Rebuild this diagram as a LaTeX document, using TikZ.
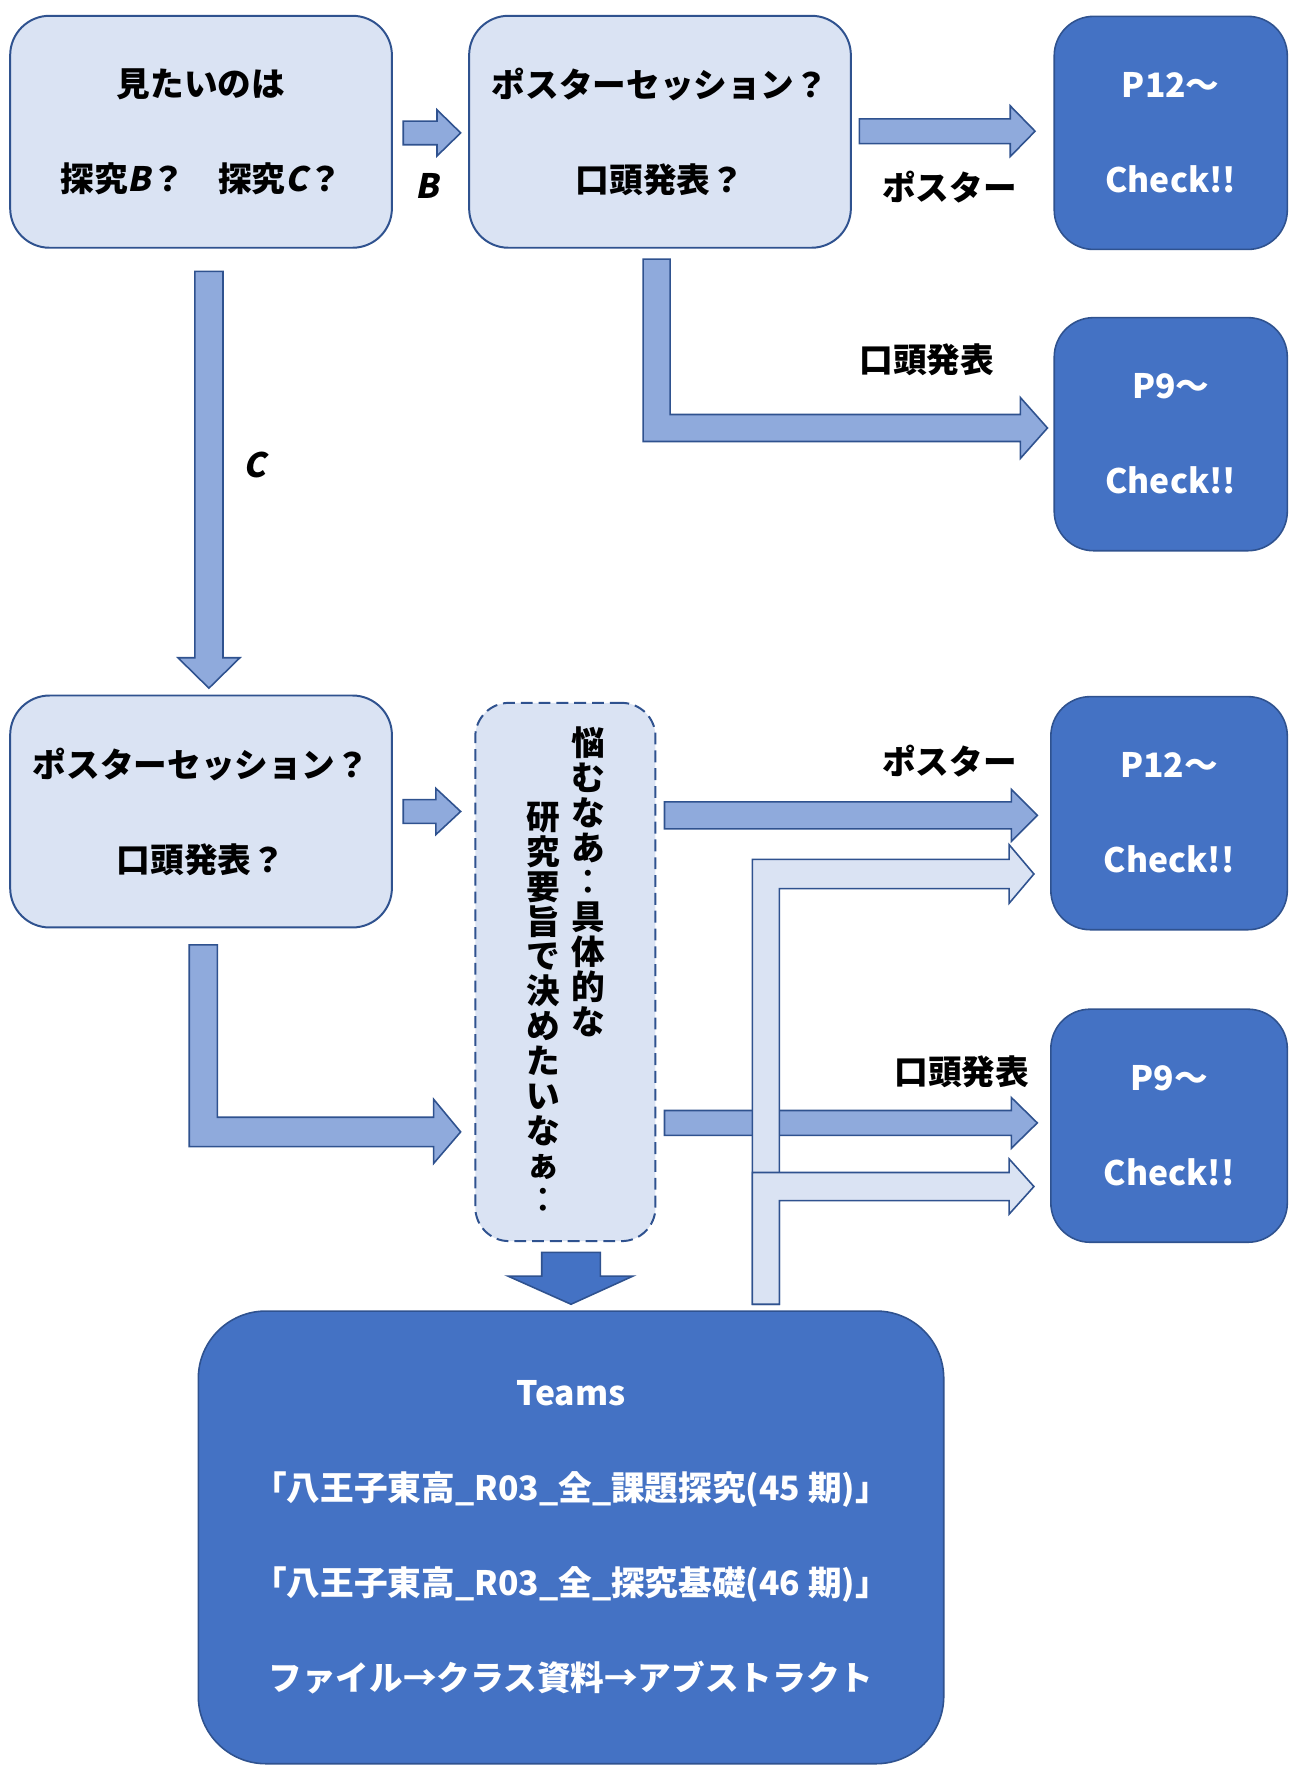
\documentclass[tikz,border=0pt]{standalone}
\usepackage{fontspec}
\usepackage{xcolor}
\usepackage{tikz}
\setmainfont{Noto Sans CJK JP}[BoldFont={* Black}]
\newfontfamily\slantjp{Noto Sans CJK JP}[BoldFont={* Black}, FakeSlant=0.2]
\definecolor{paleblue}{HTML}{DAE3F3}
\definecolor{midblue}{HTML}{8FAADC}
\definecolor{darkblue}{HTML}{4472C4}
\definecolor{edgeblue}{HTML}{2F528F}
\newcommand{\hblock}[7]{\draw[#1] (#2,#5-#6) -- (#3,#5-#6) -- (#3,#5-#7) -- (#4,#5) -- (#3,#5+#7) -- (#3,#5+#6) -- (#2,#5+#6) -- cycle;}

\begin{document}
\begin{tikzpicture}[x=0.02cm,y=-0.02cm,
  every node/.style={font=\bfseries\fontsize{17}{48}\selectfont, align=center, inner sep=0pt},
  ask/.style={draw=edgeblue, fill=paleblue, line width=1pt, rounded corners=0.7cm, minimum width=6.78cm, minimum height=4.12cm},
  goal/.style={draw=edgeblue, fill=darkblue, text=white, line width=0.8pt, rounded corners=0.7cm, minimum height=4.14cm},
  muse/.style={draw=edgeblue, fill=paleblue, line width=1pt, dash pattern=on 6pt off 3pt, rounded corners=0.6cm, minimum width=3.2cm, minimum height=9.56cm},
  vtext/.style={anchor=north, font=\bfseries\fontsize{17}{17.6}\selectfont},
  fat/.style={draw=edgeblue, fill=midblue, line width=0.8pt},
  pale/.style={draw=edgeblue, fill=paleblue, line width=0.8pt},
  deep/.style={draw=edgeblue, fill=darkblue, line width=0.8pt}]
\useasboundingbox (0,0) rectangle (1144,1568);
\node[ask] (want) at (178.5,117) {見たいのは\\探究{\slantjp B}？　探究{\slantjp C}？};
\node[ask] (formB) at (586,117) {ポスターセッション？\\口頭発表？};
\node[goal, minimum width=4.14cm] (posterB) at (1039.5,118) {P12～\\Check!!};
\node[goal, minimum width=4.14cm] (oralB) at (1039.5,385.5) {P9～\\Check!!};
\node[ask] (formC) at (178.5,720.5) {ポスターセッション？\\口頭発表？};
\node[muse] (unsure) at (502,863) {};
\node[vtext] (museR) at (522,645) {悩\\む\\な\\あ\\︰\\具\\体\\的\\な};
\node[vtext] (museL) at (482,712) {研\\究\\要\\旨\\で\\決\\め\\た\\い\\な\\ぁ\\︰};
\node[goal, minimum width=4.2cm] (posterC) at (1038,722) {P12～\\Check!!};
\node[goal, minimum width=4.2cm] (oralC) at (1038,999.5) {P9～\\Check!!};
\node[goal, rounded corners=1.2cm, minimum width=13.24cm, minimum height=8.04cm] (teams) at (507,1365)
  {Teams\\「八王子東高\_R03\_全\_課題探究(45 期)」\\「八王子東高\_R03\_全\_探究基礎(46 期)」\\ファイル→クラス資料→アブストラクト};
\node (lblB) at (379,165) {\slantjp B};
\node (lblC) at (226,413) {\slantjp C};
\node (lblPB) at (843,166) {ポスター};
\node (lblOB) at (823,319) {口頭発表};
\node (lblPC) at (843,676) {ポスター};
\node (lblOC) at (854,952) {口頭発表};
\hblock{fat}{358}{388}{409}{118}{10.5}{20.5}
\hblock{fat}{763}{897}{919}{116.5}{11}{22.5}
\hblock{fat}{358}{387}{409}{720.5}{10.5}{20.5}
\hblock{fat}{590}{898}{921}{724}{12}{23}
\hblock{fat}{590}{898}{921}{997}{11}{22.5}
\draw[fat] (571,230) -- (595,230) -- (595,368) -- (906,368) -- (906,353) -- (930,380) -- (906,407) -- (906,392) -- (571,392) -- cycle;
\draw[fat] (173,241) -- (198,241) -- (198,584) -- (213,584) -- (185.5,611) -- (158,584) -- (173,584) -- cycle;
\draw[fat] (168,839) -- (193,839) -- (193,992) -- (385,992) -- (385,976) -- (409,1005) -- (385,1033) -- (385,1018) -- (168,1018) -- cycle;
\draw[pale] (668,1158) -- (668,763) -- (896,763) -- (896,750) -- (918,776) -- (896,802) -- (896,789) -- (692,789) -- (692,1158) -- cycle;
\draw[pale] (668,1158) -- (668,1041) -- (896,1041) -- (896,1029) -- (918,1053.5) -- (896,1078) -- (896,1066) -- (692,1066) -- (692,1158) -- cycle;
\draw[deep] (481,1112) -- (533,1112) -- (533,1133) -- (562,1133) -- (507,1158) -- (451,1133) -- (481,1133) -- cycle;
\end{tikzpicture}
\end{document}
